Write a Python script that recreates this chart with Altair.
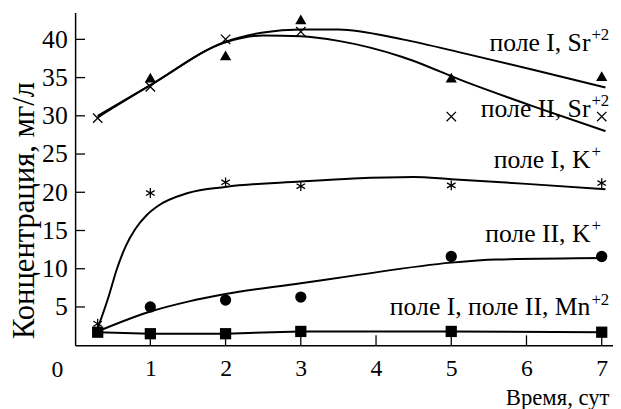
import altair as alt
import pandas as pd

FONT = "Liberation Serif"

# ---- measured points (time, days ; concentration, mg/l) ----
t_sr1 = [1, 2, 3, 5, 7]
sr1 = [35.0, 37.9, 42.6, 35.0, 35.2]          # field I, Sr (triangles)
t_sr2 = [0.3, 1, 2, 3, 5, 7]
sr2 = [29.7, 33.8, 40.0, 41.0, 29.9, 29.9]    # field II, Sr (crosses)
t_k1 = [0.3, 1, 2, 3, 5, 7]
k1 = [2.8, 19.9, 21.3, 20.8, 20.9, 21.2]      # field I, K (asterisks)
t_k2 = [1, 2, 3, 5, 7]
k2 = [5.0, 5.9, 6.3, 11.6, 11.6]              # field II, K (circles)
t_mn = [0.3, 1, 2, 3, 5, 7]
mn = [1.7, 1.5, 1.5, 1.8, 1.8, 1.7]           # Mn (squares)

# ---- fitted curves ----
ct_sr1 = [0.3, 1.0, 2.0, 2.5, 3.0, 3.5, 4.35, 5.2, 6.1, 7.05]
cy_sr1 = [30.0, 34.0, 39.7, 40.9, 41.3, 41.3, 40.0, 38.1, 36.0, 33.7]
ct_sr2 = [0.3, 1.0, 2.0, 2.5, 3.0, 3.5, 4.35, 5.2, 6.1, 7.05]
cy_sr2 = [29.8, 34.0, 39.6, 40.5, 40.4, 39.8, 37.7, 34.4, 31.2, 28.0]
ct_k1 = [0.3, 0.45, 0.55, 0.67, 0.8, 0.95, 1.1, 1.5, 2.0, 3.0, 3.7, 4.5, 5.0, 6.0, 7.05]
cy_k1 = [2.2, 6.5, 9.8, 12.9, 15.2, 17.0, 18.2, 19.9, 20.7, 21.4, 21.8, 22.0, 21.7, 21.1, 20.4]
ct_k2 = [0.3, 1.0, 1.5, 2.0, 3.0, 3.7, 5.0, 5.6, 7.05]
cy_k2 = [1.8, 4.4, 5.7, 6.7, 8.1, 9.1, 10.8, 11.2, 11.4]

# ---- axis ticks ----
x_ticks = [1, 2, 3, 4, 5, 6, 7]
y_ticks = [5, 10, 15, 20, 25, 30, 35, 40]

# ---- labels ----
lab_text = ["поле I, Sr", "поле II, Sr", "поле I, K", "поле II, K", "поле I, поле II, Mn"]
lab_sup = ["+2", "+2", "+", "+", "+2"]
lab_t = [6.85, 6.85, 6.85, 6.85, 6.85]
lab_c = [38.5, 29.9, 23.2, 13.5, 3.9]

W, H = 545, 337
xs = alt.Scale(domain=[0, 7.15], nice=False, zero=False)
ys = alt.Scale(domain=[0, 43.5], nice=False, zero=False)

x_axis = alt.Axis(values=x_ticks, ticks=False, grid=False, domainColor="black",
                  domainWidth=1.5, labelFont=FONT, labelFontSize=24, labelColor="black",
                  labelPadding=12, title="Время, сут", titleFont=FONT, titleFontSize=23,
                  titleFontWeight="normal", titleColor="black", titleAnchor="end",
                  titleAlign="right", titleBaseline="alphabetic", titleX=541, titleY=60)
y_axis = alt.Axis(values=y_ticks, ticks=False, grid=False, domainColor="black",
                  domainWidth=1.5, labelFont=FONT, labelFontSize=26, labelColor="black",
                  labelPadding=8, title="Концентрация, мг/л", titleFont=FONT,
                  titleFontSize=31, titleFontWeight="normal", titleColor="black",
                  titleAngle=-90, titleAlign="center", titleBaseline="alphabetic",
                  titleX=-42, titleY=200)

X = alt.X("t:Q", scale=xs, axis=x_axis)
Y = alt.Y("c:Q", scale=ys, axis=y_axis)


def df(t, c):
    return pd.DataFrame({"t": t, "c": c})


def curve(t, c, interp="monotone"):
    return alt.Chart(df(t, c)).mark_line(color="black", strokeWidth=2,
                                         interpolate=interp).encode(x=X, y=Y)


CROSS = "M-1,-1L1,1M-1,1L1,-1"
ASTER = "M0,-1L0,1M-0.87,-0.5L0.87,0.5M-0.87,0.5L0.87,-0.5"

layers = [
    curve(ct_sr1, cy_sr1),
    curve(ct_sr2, cy_sr2),
    curve(ct_k1, cy_k1),
    curve(ct_k2, cy_k2),
    curve(t_mn, mn, "linear"),
    alt.Chart(df(t_sr1, sr1)).mark_point(shape="triangle-up", filled=True, color="black",
                                         size=130, opacity=1).encode(x=X, y=Y),
    alt.Chart(df(t_sr2, sr2)).mark_point(shape=CROSS, filled=False, color="black",
                                         strokeWidth=1.3, size=90, opacity=1).encode(x=X, y=Y),
    alt.Chart(df(t_k1, k1)).mark_point(shape=ASTER, filled=False, color="black",
                                       strokeWidth=1.3, size=100, opacity=1).encode(x=X, y=Y),
    alt.Chart(df(t_k2, k2)).mark_circle(color="black", size=130, opacity=1).encode(x=X, y=Y),
    alt.Chart(df(t_mn, mn)).mark_square(color="black", size=130, opacity=1).encode(x=X, y=Y),
    # inward ticks
    alt.Chart(pd.DataFrame({"t": x_ticks})).mark_rule(color="black", strokeWidth=1.3).encode(
        x=X, y=alt.value(H), y2=alt.value(H - 10)),
    alt.Chart(pd.DataFrame({"c": y_ticks})).mark_rule(color="black", strokeWidth=1.3).encode(
        y=Y, x=alt.value(0), x2=alt.value(10)),
    # origin label
    alt.Chart(pd.DataFrame({"t": [0], "c": [0], "s": ["0"]})).mark_text(
        font=FONT, fontSize=24, color="black", dx=-18, dy=25, baseline="middle").encode(
        x=X, y=Y, text="s:N"),
    # series labels
    alt.Chart(pd.DataFrame({"t": lab_t, "c": lab_c, "s": lab_text})).mark_text(
        font=FONT, fontSize=26, color="black", align="right", baseline="alphabetic").encode(
        x=X, y=Y, text="s:N"),
    alt.Chart(pd.DataFrame({"t": lab_t, "c": lab_c, "s": lab_sup})).mark_text(
        font=FONT, fontSize=17, color="black", align="left", baseline="alphabetic",
        dx=1, dy=-11).encode(x=X, y=Y, text="s:N"),
]

chart = alt.layer(*layers).properties(
    width=W, height=H,
    autosize=alt.AutoSizeParams(type="none"),
    padding={"left": 68, "top": 2, "right": 0, "bottom": 62},
    background="white",
).configure_view(stroke=None)

chart.save("out.html", embed_options={"renderer": "svg", "actions": False})
